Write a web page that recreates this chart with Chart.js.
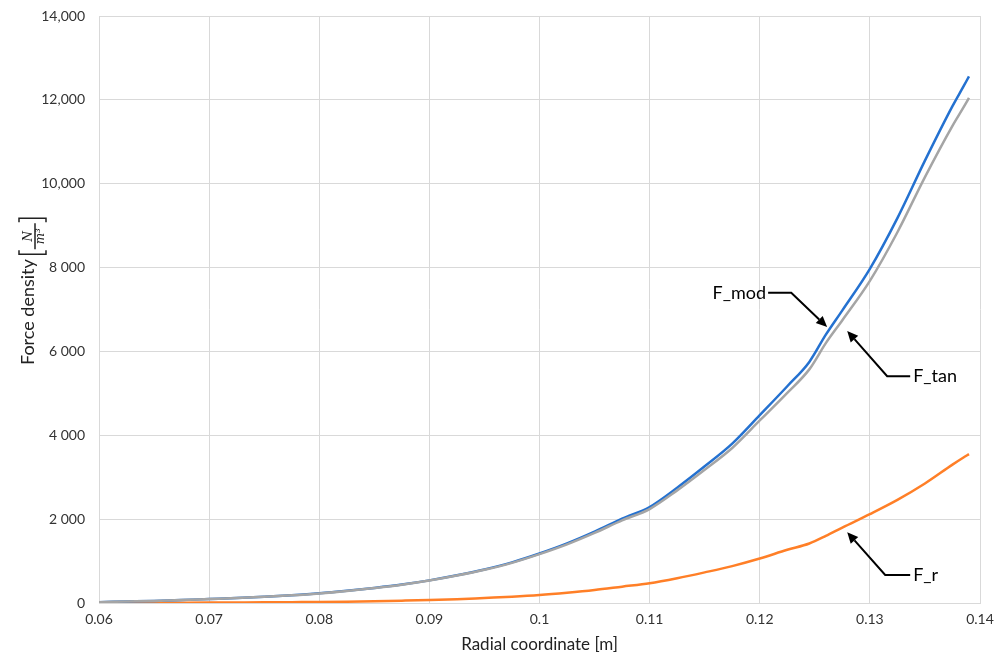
<!DOCTYPE html>
<html>
<head>
<meta charset="utf-8">
<script src="https://cdn.jsdelivr.net/npm/chart.js@4.4.0/dist/chart.umd.min.js"></script>
<style>
  html, body { margin: 0; padding: 0; background: #fff; }
  #wrap { width: 996px; height: 658px; }
</style>
</head>
<body>
<div id="wrap"><canvas id="forceChart"></canvas></div>
<script>
// radial coordinate [m]
const radius = [0.06, 0.0625, 0.065, 0.0675, 0.07, 0.0725, 0.075, 0.0775, 0.08, 0.0825,
  0.085, 0.0875, 0.09, 0.0925, 0.095, 0.0975, 0.1, 0.1025, 0.105, 0.1075,
  0.11, 0.1125, 0.115, 0.1175, 0.12, 0.1225, 0.1245, 0.126, 0.1275, 0.13,
  0.1325, 0.135, 0.1375, 0.1385, 0.139];

// force density [N/m3]
const fMod = [20, 35, 50, 70, 95, 120, 150, 185, 230, 290,
  360, 440, 540, 660, 800, 970, 1180, 1420, 1700, 2010,
  2290, 2750, 3260, 3800, 4480, 5170, 5750, 6400, 6980, 7970,
  9180, 10550, 11850, 12320, 12560];
const fTan = [20, 35, 50, 70, 95, 119, 149, 184, 229, 288,
  358, 437, 535, 654, 791, 958, 1165, 1399, 1672, 1972,
  2241, 2686, 3178, 3697, 4353, 5012, 5572, 6197, 6744, 7683,
  8843, 10158, 11381, 11821, 12048];
const fR = [2, 3, 5, 7, 9, 12, 15, 20, 25, 32,
  42, 55, 70, 90, 120, 150, 190, 245, 310, 390,
  470, 590, 730, 880, 1060, 1270, 1420, 1600, 1800, 2120,
  2460, 2850, 3300, 3470, 3550];

const yTickLabels = ["0", "2 000", "4 000", "6 000", "8 000", "10,000", "12,000", "14,000"];

// callouts: text, arrow tip, elbow, end of horizontal leg (data coords)
const callouts = [
  { text: "F_mod", tip: [0.12612, 6580], elbow: [0.12286, 7400], end: [0.12076, 7400], side: "left" },
  { text: "F_tan", tip: [0.12794, 6490], elbow: [0.13157, 5410], end: [0.13366, 5410], side: "right" },
  { text: "F_r",   tip: [0.12794, 1690], elbow: [0.13139, 670],  end: [0.13366, 670],  side: "right" },
];

const FONT = "Lato, 'Open Sans', sans-serif";

function pts(ys) {
  return radius.map((r, i) => ({ x: r, y: ys[i] }));
}

const extras = {
  id: "extras",
  afterDraw(chart) {
    const ctx = chart.ctx;
    const xs = chart.scales.x, ys = chart.scales.y;
    ctx.save();

    // callouts
    callouts.forEach(c => {
      const tx = xs.getPixelForValue(c.tip[0]), ty = ys.getPixelForValue(c.tip[1]);
      const ex = xs.getPixelForValue(c.elbow[0]), ey = ys.getPixelForValue(c.elbow[1]);
      const nx = xs.getPixelForValue(c.end[0]), ny = ys.getPixelForValue(c.end[1]);
      ctx.strokeStyle = "#000";
      ctx.fillStyle = "#000";
      ctx.lineWidth = 2;
      const ang = Math.atan2(ty - ey, tx - ex);
      const head = 11;
      const bx = tx - head * Math.cos(ang), by = ty - head * Math.sin(ang);
      ctx.beginPath();
      ctx.moveTo(nx, ny);
      ctx.lineTo(ex, ey);
      ctx.lineTo(bx, by);
      ctx.stroke();
      ctx.beginPath();
      ctx.moveTo(tx, ty);
      ctx.lineTo(bx - 5 * Math.sin(ang), by + 5 * Math.cos(ang));
      ctx.lineTo(bx + 5 * Math.sin(ang), by - 5 * Math.cos(ang));
      ctx.closePath();
      ctx.fill();
      ctx.font = "18px " + FONT;
      ctx.textBaseline = "middle";
      if (c.side === "left") {
        ctx.textAlign = "right";
        ctx.fillText(c.text, nx - 2, ny);
      } else {
        ctx.textAlign = "left";
        ctx.fillText(c.text, nx + 3, ny);
      }
    });

    // x axis title
    ctx.fillStyle = "#222";
    ctx.font = "17px " + FONT;
    ctx.textAlign = "center";
    ctx.textBaseline = "middle";
    ctx.fillText("Radial coordinate [m]", (chart.chartArea.left + chart.chartArea.right) / 2, 645);

    // y axis title with fraction N / m^3
    ctx.translate(28, 291);
    ctx.rotate(-Math.PI / 2);
    ctx.font = "18px " + FONT;
    const label = "Force density";
    const w1 = ctx.measureText(label).width;
    const x0 = -74;
    ctx.textAlign = "left";
    ctx.fillText(label, x0, 0);
    const bl = x0 + w1 + 5;
    const br = bl + 36;
    ctx.strokeStyle = "#222";
    ctx.lineWidth = 1.5;
    ctx.beginPath();
    // brackets
    ctx.moveTo(bl + 4, -9); ctx.lineTo(bl, -9); ctx.lineTo(bl, 18); ctx.lineTo(bl + 4, 18);
    ctx.moveTo(br - 4, -9); ctx.lineTo(br, -9); ctx.lineTo(br, 18); ctx.lineTo(br - 4, 18);
    // fraction bar
    ctx.moveTo(bl + 5, 7); ctx.lineTo(br - 5, 7);
    ctx.stroke();
    const cx = (bl + br) / 2;
    ctx.textAlign = "center";
    ctx.font = "italic 12px 'DejaVu Serif', serif";
    ctx.fillText("N", cx, 0.5);
    ctx.fillText("m\u00B3", cx, 13);
    ctx.restore();
  }
};

new Chart(document.getElementById("forceChart"), {
  type: "line",
  data: {
    datasets: [
      { label: "F_tan", data: pts(fTan), borderColor: "#a5a5a5", borderWidth: 2.5, order: 0 },
      { label: "F_mod", data: pts(fMod), borderColor: "#2471d0", borderWidth: 2.5, order: 1 },
      { label: "F_r", data: pts(fR), borderColor: "#ff7f27", borderWidth: 2.5, order: 2 },
    ],
  },
  options: {
    responsive: true,
    maintainAspectRatio: false,
    animation: false,
    layout: { padding: { top: 16, right: 16, left: 0, bottom: 0 } },
    elements: { point: { radius: 0 }, line: { cubicInterpolationMode: "monotone" } },
    plugins: { legend: { display: false }, tooltip: { enabled: false } },
    scales: {
      x: {
        type: "linear",
        min: 0.06,
        max: 0.14,
        ticks: {
          stepSize: 0.01,
          padding: 8,
          color: "#333",
          font: { family: FONT, size: 14 },
          callback: v => String(Number(v.toFixed(2))),
        },
        grid: { color: "#d9d9d9", drawTicks: false },
        border: { color: "#d9d9d9" },
        afterFit: s => { s.height = 55; s.paddingLeft = 0; s.paddingRight = 0; },
      },
      y: {
        min: 0,
        max: 14000,
        ticks: {
          stepSize: 2000,
          padding: 14,
          color: "#333",
          font: { family: FONT, size: 14 },
          callback: v => yTickLabels[Math.round(v / 2000)],
        },
        grid: { color: "#d9d9d9", drawTicks: false },
        border: { color: "#d9d9d9" },
        afterFit: s => { s.width = 99; s.paddingTop = 0; s.paddingBottom = 0; },
      },
    },
  },
  plugins: [extras],
});
</script>
</body>
</html>
